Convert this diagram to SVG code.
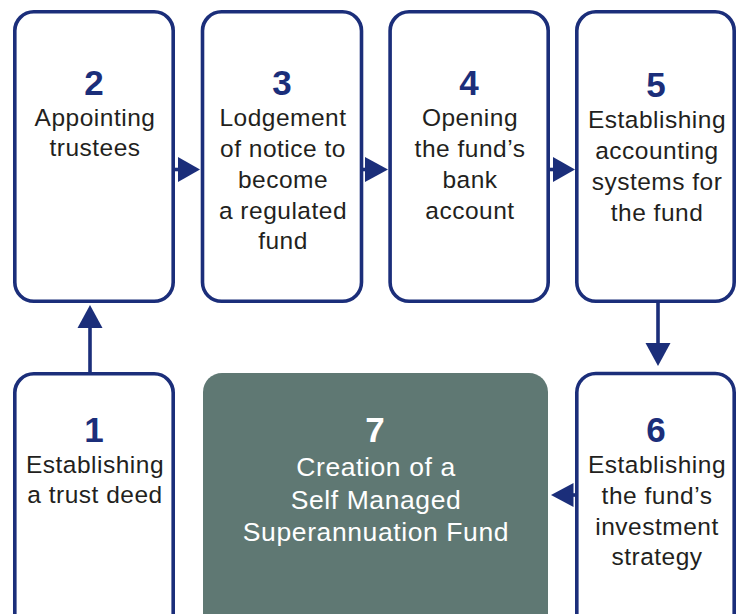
<svg xmlns="http://www.w3.org/2000/svg" width="736" height="614" viewBox="0 0 736 614">
<style>
.box{fill:#fff;stroke:#1b2e7a;stroke-width:3.6}
.dark{fill:#5f7873;stroke:none}
.num{font-family:"Liberation Sans",Arial,sans-serif;font-weight:bold;font-size:35px;fill:#1b2e7a;text-anchor:middle}
.num7{font-family:"Liberation Sans",Arial,sans-serif;font-weight:bold;font-size:35px;fill:#fff;text-anchor:middle}
.lbl{font-family:"Liberation Sans",Arial,sans-serif;font-size:24.5px;letter-spacing:0.5px;fill:#231f20;text-anchor:middle}
.lbl7{font-family:"Liberation Sans",Arial,sans-serif;font-size:26.5px;letter-spacing:0.6px;fill:#fff;text-anchor:middle}
.ln{stroke:#1b2e7a;stroke-width:3.6;fill:none}
.hd{fill:#1b2e7a}
</style>
<g id="connectors">
  <line class="ln" x1="90" y1="372" x2="90" y2="326"/>
  <polygon class="hd" points="90,305 77.5,328 102.5,328"/>
  <line class="ln" x1="175" y1="169.5" x2="180" y2="169.5"/>
  <polygon class="hd" points="200,169.5 178,157 178,182"/>
  <line class="ln" x1="363" y1="169.5" x2="367" y2="169.5"/>
  <polygon class="hd" points="388,169.5 365,157 365,182"/>
  <line class="ln" x1="550" y1="169.5" x2="555" y2="169.5"/>
  <polygon class="hd" points="575,169.5 553,157 553,182"/>
  <line class="ln" x1="658" y1="303" x2="658" y2="345"/>
  <polygon class="hd" points="658,366 645.5,343 670.5,343"/>
  <line class="ln" x1="575" y1="495" x2="571" y2="495"/>
  <polygon class="hd" points="551,495 573.5,483 573.5,507"/>
</g>
<g id="node1">
  <rect class="box" x="14.8" y="373.8" width="158.4" height="270" rx="19"/>
  <text class="num" x="94" y="442">1</text>
  <text class="lbl" x="95" y="473">Establishing</text>
  <text class="lbl" x="95" y="503">a trust deed</text>
</g>
<g id="node2">
  <rect class="box" x="14.8" y="11.8" width="158.4" height="289.5" rx="19"/>
  <text class="num" x="94" y="95">2</text>
  <text class="lbl" x="95" y="126">Appointing</text>
  <text class="lbl" x="95" y="156">trustees</text>
</g>
<g id="node3">
  <rect class="box" x="202.5" y="11.8" width="159" height="289.5" rx="19"/>
  <text class="num" x="282" y="95">3</text>
  <text class="lbl" x="283" y="126">Lodgement</text>
  <text class="lbl" x="283" y="157">of notice to</text>
  <text class="lbl" x="283" y="188">become</text>
  <text class="lbl" x="283" y="219">a regulated</text>
  <text class="lbl" x="283" y="249">fund</text>
</g>
<g id="node4">
  <rect class="box" x="390.1" y="11.8" width="158.1" height="289.5" rx="19"/>
  <text class="num" x="469" y="95">4</text>
  <text class="lbl" x="470" y="126">Opening</text>
  <text class="lbl" x="470" y="157">the fund’s</text>
  <text class="lbl" x="470" y="188">bank</text>
  <text class="lbl" x="470" y="219">account</text>
</g>
<g id="node5">
  <rect class="box" x="576.8" y="11.8" width="157.4" height="289.5" rx="19"/>
  <text class="num" x="656" y="97">5</text>
  <text class="lbl" x="657" y="128">Establishing</text>
  <text class="lbl" x="657" y="159">accounting</text>
  <text class="lbl" x="657" y="190">systems for</text>
  <text class="lbl" x="657" y="221">the fund</text>
</g>
<g id="node6">
  <rect class="box" x="576.8" y="373.5" width="157.4" height="270" rx="19"/>
  <text class="num" x="656" y="442">6</text>
  <text class="lbl" x="657" y="473">Establishing</text>
  <text class="lbl" x="657" y="504">the fund’s</text>
  <text class="lbl" x="657" y="535">investment</text>
  <text class="lbl" x="657" y="565">strategy</text>
</g>
<g id="node7">
  <rect class="dark" x="203" y="373" width="345" height="270" rx="19"/>
  <text class="num7" x="375" y="442">7</text>
  <text class="lbl7" x="376" y="476">Creation of a</text>
  <text class="lbl7" x="376" y="509">Self Managed</text>
  <text class="lbl7" x="376" y="541">Superannuation Fund</text>
</g>
</svg>
